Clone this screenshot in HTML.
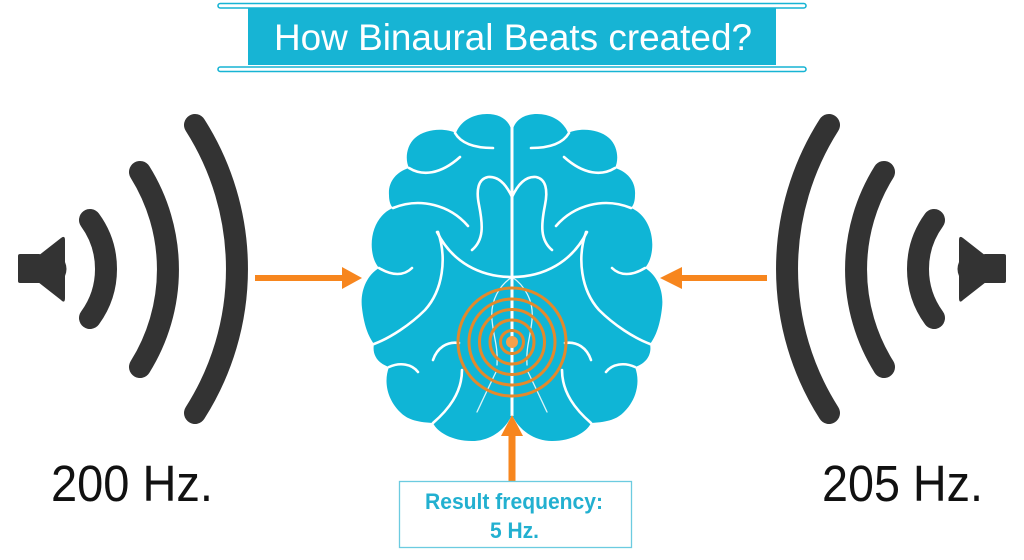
<!DOCTYPE html>
<html>
<head>
<meta charset="utf-8">
<style>
  html, body { margin:0; padding:0; background:#ffffff; }
  body { width:1024px; height:560px; overflow:hidden; }
  svg { display:block; }
</style>
</head>
<body>
<svg width="1024" height="560" viewBox="0 0 1024 560" xmlns="http://www.w3.org/2000/svg">
  <rect width="1024" height="560" fill="#ffffff"/>

  <!-- Title banner -->
  <rect x="218" y="3.5" width="588" height="4.5" rx="2.25" fill="#ffffff" stroke="#17b4d4" stroke-width="1.6"/>
  <rect x="248" y="8" width="528" height="57" fill="#17b4d4"/>
  <rect x="218" y="67" width="588" height="4.5" rx="2.25" fill="#ffffff" stroke="#17b4d4" stroke-width="1.6"/>
  <text x="274" y="50" font-family="Liberation Sans, sans-serif" font-size="37" fill="#ffffff" textLength="478" lengthAdjust="spacingAndGlyphs">How Binaural Beats created?</text>

  <!-- Left speaker -->
  <g id="spk">
    <rect x="18" y="254" width="23" height="29" rx="2" fill="#333333"/>
    <path d="M38 256 L61 238 Q65 235 65 240 L65 262 Q68 269 65 276 L65 298 Q65 304 61 300 L38 282 Z" fill="#333333"/>
    <g fill="none" stroke="#333333" stroke-width="22" stroke-linecap="round">
      <path d="M90 220 A83 83 0 0 1 90 318"/>
      <path d="M140 172 A184 184 0 0 1 140 367"/>
      <path d="M195 125 A268 268 0 0 1 195 413"/>
    </g>
  </g>
  <!-- Right speaker (mirror) -->
  <use href="#spk" transform="translate(1024,0) scale(-1,1)"/>

  <!-- Brain -->
  <g id="hemi">
    <path d="M512 133
             C510 120 500 114 487 114
             C472 114 460 122 456 133
             C446 128 426 128 415 138
             C406 146 405 160 409 168
             C396 172 388 182 389 195
             C389 200 390 205 393 208
             C378 214 370 232 372 250
             C373 258 375 263 379 268
             C366 276 360 292 362 308
             C364 325 368 336 374 344
             C372 354 377 363 389 367
             C384 380 386 398 400 412
             C407 419 415 422 433 423
             C437 432 452 441 472 441
             C490 441 505 430 512 415
             Z" fill="#0fb5d6"/>
    <g fill="none" stroke="#ffffff" stroke-width="2.6" stroke-linecap="round">
      <path d="M455 133 C462 145 478 148 493 148"/>
      <path d="M409 168 C422 176 440 175 460 157"/>
      <path d="M512 197 C506 184 498 176 488 177 C478 179 476 190 479 205 C483 225 484 240 472 250"/>
      <path d="M393 208 C420 197 450 205 468 226"/>
      <path d="M512 277 C480 277 452 262 437 232"/>
      <path d="M379 268 C392 276 404 276 412 268"/>
      <path d="M438 232 C447 258 443 290 425 310 C410 325 390 338 374 344"/>
      <path d="M433 360 C437 348 447 341 459 343"/>
      <path d="M389 367 C400 362 412 364 418 372"/>
      <path d="M433 423 C448 410 462 393 462 370"/>
    </g>
    <g fill="none" stroke="#ffffff" stroke-width="1.3" stroke-linecap="round" opacity="0.85">
      <path d="M512 277 C500 285 490 300 492 320 C494 340 498 345 497 365"/>
      <path d="M477 412 C485 395 492 380 497 370"/>
    </g>
  </g>
  <use href="#hemi" transform="translate(1024,0) scale(-1,1)"/>
  <!-- midline -->
  <line x1="512" y1="120" x2="512" y2="416" stroke="#ffffff" stroke-width="3"/>

  <!-- Concentric rings -->
  <g fill="none" stroke="#e3892c" stroke-width="3">
    <circle cx="512" cy="342" r="54"/>
    <circle cx="512" cy="342" r="43"/>
    <circle cx="512" cy="342" r="32.5"/>
    <circle cx="512" cy="342" r="22"/>
    <circle cx="512" cy="342" r="11.5"/>
  </g>
  <circle cx="512" cy="342" r="6" fill="#f5a04a"/>

  <!-- Arrows -->
  <g fill="#f7861e">
    <rect x="255" y="275" width="90" height="6"/>
    <polygon points="342,267 362,278 342,289"/>
    <rect x="679" y="275" width="88" height="6"/>
    <polygon points="682,267 660,278 682,289"/>
    <rect x="508.5" y="433" width="7" height="48"/>
    <polygon points="501,436 512,415 523,436"/>
  </g>

  <!-- Result box -->
  <rect x="399.5" y="481.5" width="232" height="66" fill="#ffffff" stroke="#6ccbe0" stroke-width="1.3"/>
  <text x="425" y="509" font-family="Liberation Sans, sans-serif" font-weight="bold" font-size="22" fill="#22b0d0" textLength="178" lengthAdjust="spacingAndGlyphs">Result frequency:</text>
  <text x="490" y="538" font-family="Liberation Sans, sans-serif" font-weight="bold" font-size="22" fill="#22b0d0" textLength="49" lengthAdjust="spacingAndGlyphs">5 Hz.</text>

  <!-- Frequency labels -->
  <text x="51" y="501" font-family="Liberation Sans, sans-serif" font-size="51" fill="#111111" textLength="162" lengthAdjust="spacingAndGlyphs">200 Hz.</text>
  <text x="822" y="501" font-family="Liberation Sans, sans-serif" font-size="51" fill="#111111" textLength="161" lengthAdjust="spacingAndGlyphs">205 Hz.</text>
</svg>
</body>
</html>
